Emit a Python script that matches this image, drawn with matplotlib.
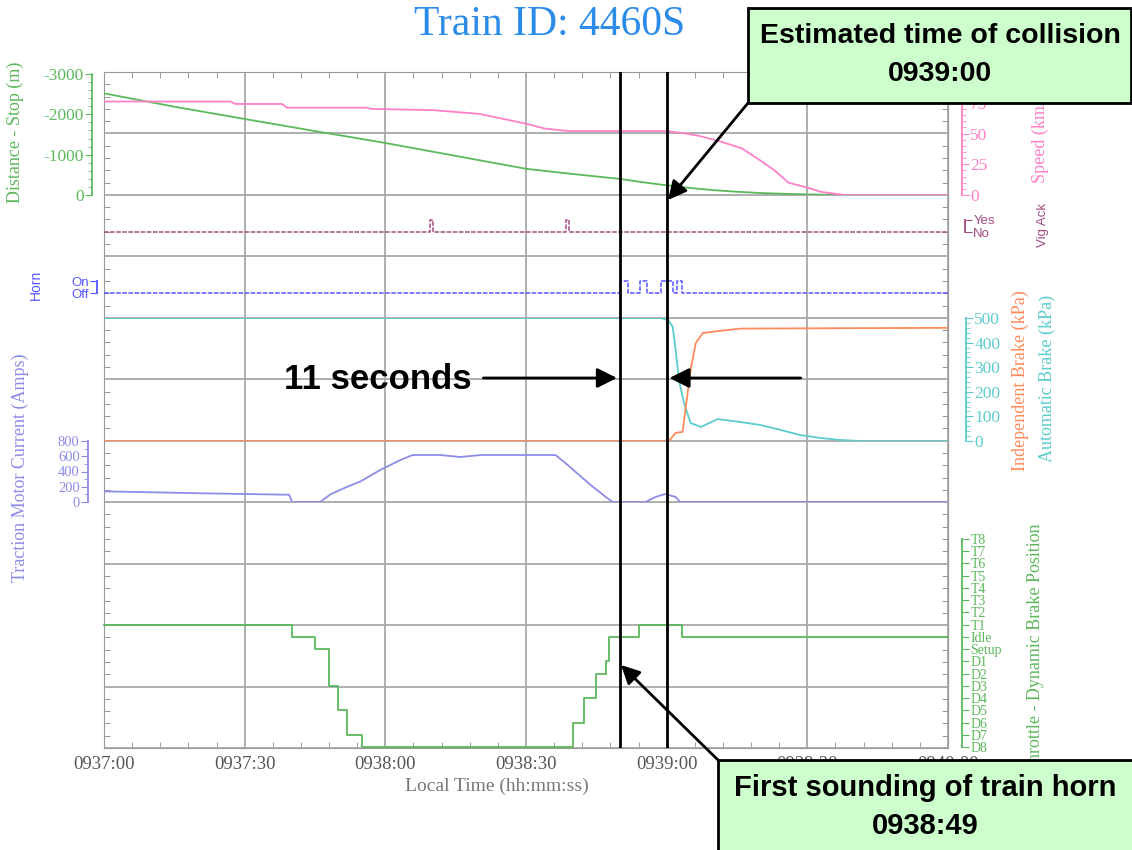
import matplotlib
matplotlib.use("Agg")
import matplotlib.pyplot as plt
from matplotlib.patches import Rectangle
import numpy as np

plt.rcParams['font.family'] = 'serif'
plt.rcParams['font.serif'] = ['Liberation Serif', 'DejaVu Serif']
plt.rcParams['axes.unicode_minus'] = False

# ---- data (time in seconds after 0937:00) ----
time_ticks = [0, 30, 60, 90, 120, 150, 180]
time_labels = ["0937:00", "0937:30", "0938:00", "0938:30", "0939:00", "0939:30", "0940:00"]

dist_t = [0, 15, 30, 45, 60, 75, 90, 100, 110, 115, 120, 125, 130, 135, 140, 145, 150, 155, 160, 180]
dist_m = [-2520, -2190, -1885, -1585, -1290, -970, -650, -520, -400, -315, -240, -175, -120,
          -80, -50, -30, -15, -5, 0, 0]

speed_t = [0, 27, 28, 38, 39, 56, 57, 70, 80, 85, 90, 94, 99, 110, 120, 124, 127, 131,
           136, 140, 143, 146, 150, 153, 156, 158, 180]
speed_v = [76, 76, 74, 74, 71, 71, 70, 69, 66, 62, 58, 54, 52, 52, 52, 50, 48, 44,
           38, 28, 20, 10, 6, 2.5, 1, 0, 0]

vig_t = [0, 69.5, 70.2, 98.5, 99.2, 180]
vig_v = [0, 1, 0, 1, 0, 0]

horn_t = [0, 110, 111.7, 114.4, 115.7, 118.7, 121.3, 122.3, 123.2, 180]
horn_v = [0, 1, 0, 1, 0, 1, 0, 1, 0, 0]

auto_t = [0, 118.7, 119.3, 120.4, 121.3, 122.0, 122.6, 123.7, 125.1, 127.3, 130.9,
          135.8, 140, 144.3, 148.5, 152.9, 157.1, 161.4, 180]
auto_kpa = [500, 500, 497, 490, 463, 358, 248, 154, 73, 57, 89,
            77, 65, 45, 24, 12, 4, 0, 0]

ind_t = [0, 120.5, 121.9, 123.4, 124.0, 125.1, 126.2, 127.7, 131.5, 135.8, 180]
ind_kpa = [0, 0, 33, 37, 126, 289, 398, 439, 448, 457, 460]

amps_t = [0, 20, 39.5, 40.1, 46.1, 48.3, 51.5, 54.7, 58.9, 63.2, 65.8, 71.7, 76, 80.3,
          96.3, 98.4, 100.6, 103.8, 107, 108.5, 115.5, 117.6, 119.7, 121.9, 122.9, 180]
amps = [140, 115, 95, 0, 0, 100, 190, 270, 420, 550, 616, 616, 590, 616,
        616, 511, 393, 223, 66, 0, 0, 66, 105, 66, 0, 0]

thr_t = [0, 40.1, 45.0, 48.0, 50.0, 51.9, 55.1, 100.1, 102.3, 105.0, 107.0, 107.8, 114.2, 123.2, 180]
thr_v = [1, 0, -1, -4, -6, -8, -9, -7, -5, -3, -2, 0, 1, 0, 0]
thr_labels = ["D8", "D7", "D6", "D5", "D4", "D3", "D2", "D1", "Setup", "Idle",
              "T1", "T2", "T3", "T4", "T5", "T6", "T7", "T8"]

horn_time = 110
collision_time = 120

# ---- layout (pixels) ----
W, H = 1132, 850
X0, X1 = 104, 948
Y0, Y1 = 72, 748

fig = plt.figure(figsize=(W / 100, H / 100), dpi=100)


def rect(x0, y0, x1, y1):
    return [x0 / W, 1 - y1 / H, (x1 - x0) / W, (y1 - y0) / H]


base = fig.add_axes(rect(X0, Y0, X1, Y1))
base.set_xlim(0, 180)
base.set_ylim(0, 11)
base.set_xticks(time_ticks)
base.set_xticklabels(time_labels)
base.set_xticks(np.arange(0, 181, 6), minor=True)
base.set_yticks(range(12))
base.set_yticks(np.arange(0, 11.01, 0.2), minor=True)
base.tick_params(which='both', direction='in', top=True, right=True, color='#888888',
                 labelleft=False)
base.tick_params(which='minor', length=4)
base.tick_params(which='major', length=0)
base.tick_params(axis='x', labelsize=13.5, labelcolor='#555555', pad=6)
base.grid(True, which='major', color='#a8a8a8', lw=1.3)
for s in base.spines.values():
    s.set_color('#999999')


def band(y0, y1, ylim, side, offset_px, color, bounds, size=10):
    ax = fig.add_axes(rect(X0, y0, X1, y1))
    ax.patch.set_visible(False)
    ax.set_xlim(0, 180)
    ax.set_ylim(*ylim)
    ax.set_xticks([])
    for s in ax.spines.values():
        s.set_visible(False)
    sp = ax.spines[side]
    sp.set_visible(True)
    sp.set_position(('outward', offset_px * 0.72))
    sp.set_bounds(*bounds)
    sp.set_color(color)
    sp.set_linewidth(1.3)
    ax.yaxis.set_ticks_position(side)
    ax.tick_params(axis='y', which='both', colors=color, direction='out', labelsize=size, pad=1)
    ax.tick_params(axis='y', which='major', length=5)
    ax.tick_params(axis='y', which='minor', length=3)
    return ax


green = '#5cb85c'
pink = '#ff80c8'
vig_c = '#a04c80'
horn_c = '#5555ff'
cyan = '#5ccccc'
orange = '#ff8a5c'
amps_c = '#8c8ce8'

# distance
ax_d = band(72, 195, (0, -3050), 'left', 12, green, (-3000, 0), 12.5)
ax_d.set_yticks([0, -1000, -2000, -3000])
ax_d.set_yticks(np.arange(-3000, 1, 200), minor=True)
ax_d.plot(dist_t, dist_m, color=green, lw=1.3)

# speed
ax_s = band(72, 195, (0, 99.2), 'right', 14, pink, (0, 100), 12.5)
ax_s.set_yticks([0, 25, 50, 75])
ax_s.set_yticks(np.arange(0, 101, 5), minor=True)
ax_s.plot(speed_t, speed_v, color=pink, lw=1.3)

# vigilance ack
ax_v = band(195, 257, (-2.083, 3.083), 'right', 17, vig_c, (0, 1))
ax_v.set_yticks([0, 1])
ax_v.set_yticklabels(['No', 'Yes'], family='Liberation Sans', fontsize=9.5)
ax_v.plot(vig_t, vig_v, color=vig_c, lw=1.1, drawstyle='steps-post', ls=(0, (3, 1)))

# horn
ax_h = band(257, 318, (-2.083, 3.0), 'left', 7, horn_c, (0, 1))
ax_h.set_yticks([0, 1])
ax_h.set_yticklabels(['Off', 'On'], family='Liberation Sans', fontsize=9.5)
ax_h.plot(horn_t, horn_v, color=horn_c, lw=1.1, drawstyle='steps-post', ls=(0, (3, 1)))

# brakes
ax_b = band(318, 441, (0, 500), 'right', 18, cyan, (0, 500), 12.5)
ax_b.set_yticks(range(0, 501, 100))
ax_b.set_yticks(range(0, 501, 20), minor=True)
ax_b.plot(auto_t, auto_kpa, color=cyan, lw=1.3)
ax_b.plot(ind_t, ind_kpa, color=orange, lw=1.3)

# traction motor current
ax_a = band(441, 502, (0, 800), 'left', 16, amps_c, (0, 800), 10.5)
ax_a.set_yticks(range(0, 801, 200))
ax_a.set_yticks(range(0, 801, 100), minor=True)
ax_a.plot(amps_t, amps, color=amps_c, lw=1.3)

# throttle / dynamic brake
ax_t = band(502, 748, (-9.08, 11.02), 'right', 14, green, (-9, 8))
ax_t.set_yticks(range(-9, 9))
ax_t.set_yticklabels(thr_labels, fontsize=10)
ax_t.plot(thr_t, thr_v, color=green, lw=1.3, drawstyle='steps-post', clip_on=False)

# marker lines and arrows (x in seconds, y in pixels)
mk = fig.add_axes(rect(X0, Y0, X1, Y1), zorder=5)
mk.patch.set_visible(False)
mk.axis('off')
mk.set_xlim(0, 180)
mk.set_ylim(Y1, Y0)
for t in (horn_time, collision_time):
    mk.axvline(t, color='black', lw=2)
ap = dict(arrowstyle='-|>', color='black', lw=2, mutation_scale=30, shrinkA=0, shrinkB=2)
mk.annotate('', xy=(horn_time, 378), xytext=(80.9, 378), arrowprops=ap)
mk.annotate('', xy=(collision_time, 378), xytext=(148.6, 378), arrowprops=ap)
mk.text(80.9 - 2.5, 379, '11 seconds', ha='right', va='center', family='Liberation Sans',
        fontweight='bold', fontsize=25)

# overlay in pixel coordinates for titles, labels and callouts
ov = fig.add_axes([0, 0, 1, 1], zorder=10)
ov.patch.set_visible(False)
ov.axis('off')
ov.set_xlim(0, W)
ov.set_ylim(H, 0)

ov.text(550, 35, 'Train ID: 4460S', ha='center', va='baseline', color='#2b8be8', fontsize=30)
ov.text(497, 786, 'Local Time (hh:mm:ss)', ha='center', va='center', color='#777777', fontsize=14)

side_labels = [
    (15, 132, 'Distance - Stop (m)', green, 13, 'serif'),
    (36, 285, 'Horn', horn_c, 10, 'Liberation Sans'),
    (20, 468, 'Traction Motor Current (Amps)', amps_c, 13, 'serif'),
    (1040, 134, 'Speed (km/h)', pink, 13, 'serif'),
    (1043, 225, 'Vig Ack', vig_c, 9.5, 'Liberation Sans'),
    (1020, 381, 'Independent Brake (kPa)', orange, 13, 'serif'),
    (1047, 378, 'Automatic Brake (kPa)', cyan, 13, 'serif'),
    (1035, 648, 'Throttle - Dynamic Brake Position', green, 13, 'serif'),
]
for x, y, s, c, fs, fam in side_labels:
    ov.text(x, y, s, rotation=90, ha='center', va='center', color=c, fontsize=fs,
            family=fam, zorder=0.5)

box_ap = dict(arrowstyle='-|>', color='black', lw=2, mutation_scale=28, shrinkA=0, shrinkB=0)
ov.annotate('', xy=(668, 200), xytext=(748, 103), arrowprops=box_ap)
ov.annotate('', xy=(621, 665), xytext=(718, 760), arrowprops=box_ap)

ov.add_patch(Rectangle((748, 8), 383, 95, facecolor='#ccffcc', edgecolor='black', lw=2, zorder=1))
ov.text(940, 36, 'Estimated time of collision', ha='center', va='center', family='Liberation Sans',
        fontweight='bold', fontsize=20.5)
ov.text(940, 74, '0939:00', ha='center', va='center', family='Liberation Sans',
        fontweight='bold', fontsize=20.5)
ov.add_patch(Rectangle((718, 760), 416, 95, facecolor='#ccffcc', edgecolor='black', lw=2, zorder=1))
ov.text(925, 788, 'First sounding of train horn', ha='center', va='center', family='Liberation Sans',
        fontweight='bold', fontsize=21)
ov.text(925, 826, '0938:49', ha='center', va='center', family='Liberation Sans',
        fontweight='bold', fontsize=21)

fig.savefig('out.png', dpi=100)
